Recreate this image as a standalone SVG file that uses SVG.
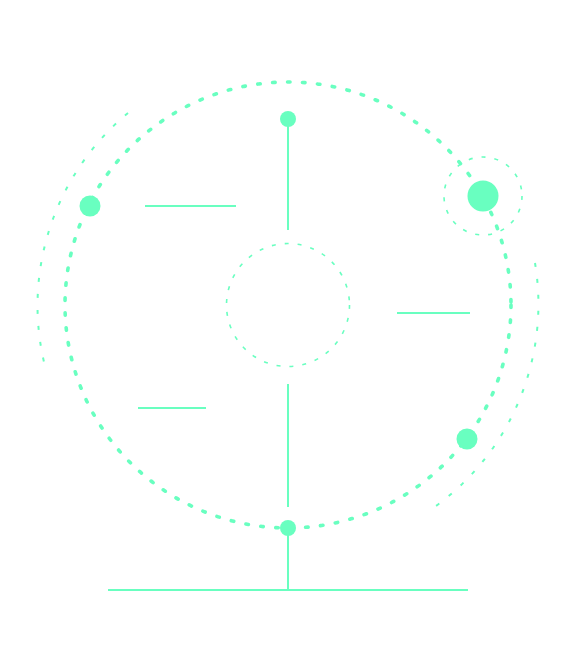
<svg xmlns="http://www.w3.org/2000/svg" width="577" height="669" viewBox="0 0 577 669">
<style>
.ln{stroke:#69ffc0;stroke-width:2;fill:none}
.main{stroke:#69ffc0;stroke-width:3.6;fill:none;stroke-dasharray:2.5 12.5;stroke-linecap:round}
.outer{stroke:#69ffc0;stroke-width:2;fill:none;stroke-dasharray:4 12}
.thin{stroke:#69ffc0;stroke-width:1.6;fill:none;stroke-dasharray:4 9}
.dot{fill:#69ffc0}
</style>
<rect width="577" height="669" fill="#ffffff"/>
<g id="connectors">
<line class="ln" x1="288" y1="119" x2="288" y2="230"/>
<line class="ln" x1="288" y1="384" x2="288" y2="507"/>
<line class="ln" x1="288" y1="528" x2="288" y2="590"/>
<line class="ln" x1="108" y1="590" x2="468" y2="590"/>
<line class="ln" x1="145" y1="206" x2="236" y2="206"/>
<line class="ln" x1="397" y1="313" x2="470" y2="313"/>
<line class="ln" x1="138" y1="408" x2="206" y2="408"/>
</g>
<g id="orbit-main"><circle class="main" cx="288" cy="305" r="223"/></g>
<g id="orbit-outer-left"><path class="outer" d="M128 113 A250 250 0 0 0 44 362"/></g>
<g id="orbit-outer-right"><path class="outer" d="M535 263 A250 250 0 0 1 436 506"/></g>
<g id="center-ring"><circle class="thin" cx="288" cy="305" r="61.5"/></g>
<g id="ring-small"><circle class="thin" cx="483" cy="196" r="39"/></g>
<g id="node-big"><circle class="dot" cx="483" cy="196" r="15.5"/></g>
<g id="node-top"><circle class="dot" cx="288" cy="119" r="8"/></g>
<g id="node-bottom"><circle class="dot" cx="288" cy="528" r="8"/></g>
<g id="node-left"><circle class="dot" cx="90" cy="206" r="10.5"/></g>
<g id="node-right"><circle class="dot" cx="467" cy="439" r="10.5"/></g>
</svg>
